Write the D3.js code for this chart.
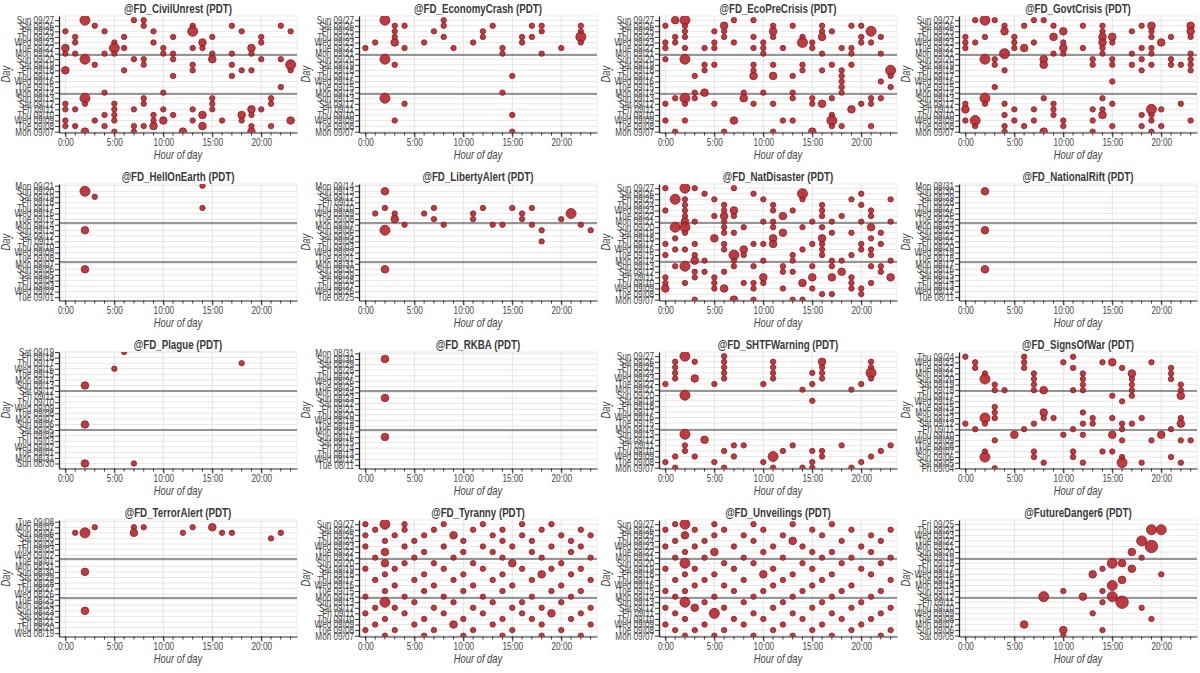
<!DOCTYPE html>
<html><head><meta charset="utf-8">
<script src="https://cdn.jsdelivr.net/npm/d3@7"></script>
<style>
body{margin:0;background:#fff}
svg{display:block}
text{font-family:"Liberation Sans",Arial,Helvetica,sans-serif}
</style>
</head><body>
<svg id="c" width="1200" height="673"></svg>
<script>
// ---------- data ----------
const accounts = ["@FD_CivilUnrest","@FD_EconomyCrash","@FD_EcoPreCrisis","@FD_GovtCrisis",
  "@FD_HellOnEarth","@FD_LibertyAlert","@FD_NatDisaster","@FD_NationalRift",
  "@FD_Plague","@FD_RKBA","@FD_SHTFWarning","@FD_SignsOfWar",
  "@FD_TerrorAlert","@FD_Tyranny","@FD_Unveilings","@FutureDanger6"];
const firstDay = ["2020-09-07","2020-09-07","2020-09-07","2020-09-07",
  "2020-09-01","2020-08-25","2020-09-07","2020-08-11",
  "2020-08-30","2020-08-11","2020-09-07","2020-09-04",
  "2020-08-19","2020-09-07","2020-09-07","2020-09-05"];
// time of last post, in days after firstDay
const lastPost = [20.75,20.75,20.75,20.75, 20.3,20.3,20.75,20.3, 20.0,20.25,20.75,20.85, 20.3,20.75,20.75,20.75];
const hourTicks = [0,5,10,15,20];
const hourTickLabels = ["0:00","5:00","10:00","15:00","20:00"];

// points: [hour, day index (0 = firstDay), size class]
const civilUnrest = [[2,20,3],[7,20,1],[8,20,1],
[3,19,1],[8,19,1],[13,19,1],[17,19,1],[22,19,1],
[0,18,1],[4,18,1],[9,18,1],[13,18,3],[18,18,1],[23,18,1],
[1,17,1],[6,17,1],[11,17,1],[15,17,1],[20,17,1],
[1,16,1],[5,16,1],[9,16,1],[14,16,2],[20,16,1],
[0,15,2],[5,15,3],[6,15,1],[10,15,1],[13,15,1],[14,15,1],[19,15,2],
[0,14,1],[1,14,1],[4,14,1],[5,14,1],[10,14,1],[11,14,1],[15,14,1],[17,14,1],[19,14,1],
[2,13,3],[7,13,1],[8,13,1],[11,13,1],[15,13,2],[20,13,1],[22,13,1],
[3,12,1],[8,12,1],[13,12,1],[17,12,1],[23,12,3],
[0,11,2],[6,11,1],[13,11,1],[18,11,1],[19,11,1],[23,11,1],
[11,10,1],[17,10,1],[22,8,1],[4,7,1],[10,7,1],
[2,6,3],[8,6,1],[15,6,1],[21,6,1],
[0,5,1],[2,5,1],[5,5,1],[8,5,1],[15,5,1],[21,5,1],
[0,4,1],[1,4,1],[5,4,1],[7,4,1],[10,4,1],[13,4,1],[15,4,1],[19,4,2],[20,4,1],
[4,3,1],[5,3,1],[9,3,1],[11,3,1],[14,3,2],[18,3,2],[19,3,1],
[0,2,1],[3,2,1],[5,2,1],[9,2,1],[10,2,2],[13,2,1],[16,2,1],[18,2,1],[23,2,2],
[0,1,1],[1,1,1],[4,1,1],[7,1,1],[8,1,1],[9,1,2],[14,1,2],[19,1,1],[21,1,1],
[2,0,2],[5,0,1],[7,0,1],[12,0,2],[19,0,2]];
const economyCrash = [[2,20,3],[8,20,1],
[3,19,1],[4,19,1],[8,19,1],[13,19,1],[17,19,1],[18,19,1],[22,19,1],
[3,18,1],[7,18,1],[12,18,1],[18,18,1],[22,18,1],
[3,17,1],[8,17,1],[12,17,1],[16,17,1],[17,17,1],[22,17,3],
[1,16,1],[3,16,2],[6,16,1],[11,16,1],[16,16,1],[22,16,1],
[0,15,1],[4,15,1],[9,15,1],[14,15,1],[20,15,1],
[14,14,1],[18,14,1],[2,13,3],[3,12,1],[15,10,1],[14,7,1],[2,6,3],[4,5,1],[15,3,1],[3,2,1],[15,0,1]];
const ecoPreCrisis = [[1,20,2],[2,20,3],[7,20,1],[9,20,1],
[0,19,1],[2,19,1],[6,19,2],[11,19,1],[13,19,1],[16,19,1],[19,19,1],[20,19,1],
[2,18,1],[5,18,1],[6,18,1],[11,18,2],[16,18,1],[17,18,1],[21,18,3],
[1,17,1],[2,17,1],[6,17,1],[9,17,1],[11,17,1],[14,17,1],[16,17,2],[20,17,1],[22,17,1],
[0,16,1],[1,16,1],[5,16,1],[7,16,1],[10,16,1],[14,16,3],[15,16,1],[20,16,1],[21,16,1],
[0,15,1],[2,15,1],[4,15,1],[5,15,1],[9,15,1],[10,15,1],[12,15,1],[15,15,1],[18,15,1],[19,15,1],
[10,14,1],[16,14,1],[19,14,1],[22,14,1],
[0,13,1],[2,13,3],
[4,12,1],[5,12,1],[9,12,1],[11,12,1],[14,12,1],[17,12,1],[19,12,1],
[4,11,1],[9,11,1],[14,11,1],[16,11,1],[18,11,1],[23,11,3],
[3,10,1],[9,10,2],[11,10,2],[13,10,1],[18,10,1],[23,10,1],
[18,9,1],[22,9,1],[18,8,1],[23,8,1],
[3,7,1],[4,7,2],[8,7,1],[10,7,1],[13,7,1],[18,7,1],
[1,6,1],[2,6,3],[3,6,1],[8,6,2],[13,6,1],[15,6,1],[17,6,1],[21,6,1],[22,6,1],
[0,5,1],[2,5,1],[5,5,1],[9,5,1],[11,5,1],[15,5,1],[16,5,2],[20,5,1],[21,5,1],
[19,4,2],[17,3,1],
[0,2,1],[2,2,1],[7,2,2],[12,2,1],[13,2,1],[17,2,3],
[17,1,1],[18,1,1],[21,1,1],
[1,0,1],[6,0,1],[11,0,1],[15,0,2]];
const govtCrisis = [[1,20,1],[2,20,3],[3,20,1],[7,20,1],[8,20,1],
[4,19,1],[6,19,1],[9,19,1],[12,19,1],[14,19,1],[18,19,1],[19,19,2],[23,19,2],
[4,18,2],[10,18,2],[14,18,1],[17,18,1],[19,18,1],[23,18,2],
[0,17,1],[2,17,1],[5,17,1],[9,17,2],[14,17,2],[15,17,2],[19,17,1],[21,17,1],[23,17,1],
[0,16,1],[1,16,1],[5,16,1],[7,16,1],[10,16,1],[14,16,2],[15,16,1],[20,16,2],
[0,15,1],[5,15,1],[6,15,2],[10,15,2],[12,15,1],[14,15,1],[18,15,1],[19,15,1],
[4,14,3],[9,14,1],[10,14,1],[14,14,1],[17,14,1],[19,14,1],[23,14,1],
[2,13,3],[3,13,1],[8,13,2],[13,13,1],[15,13,1],[18,13,1],[21,13,1],[23,13,1],
[3,12,1],[8,12,2],[13,12,1],[15,12,1],[17,12,1],[19,12,1],[21,12,1],[22,12,1],[23,12,1],
[4,11,1],[18,11,1],[23,11,1],[15,9,1],[3,8,1],
[2,6,3],[8,6,1],[14,6,1],
[0,5,1],[2,5,1],[4,5,1],[9,5,1],[15,5,1],[22,5,1],
[0,4,2],[5,4,1],[7,4,1],[9,4,1],[13,4,1],[14,4,1],[19,4,3],[20,4,1],
[4,3,1],[9,3,1],[14,3,2],[18,3,1],[19,3,1],
[0,2,1],[1,2,3],[5,2,1],[7,2,1],[10,2,1],[13,2,1],[19,2,1],[23,2,1],
[1,1,1],[4,1,1],[6,1,1],[10,1,1],[15,1,1],[18,1,1],[20,1,1],
[4,0,1],[8,0,2],[13,0,1],[19,0,1]];
const hellOnEarth = [[14,20,1],[2,19,3],[3,18,1],[14,16,1],[2,12,2],[2,5,2]];
const libertyAlert = [[2,19,2],
[2,16,1],[7,16,1],[12,16,1],[15,16,1],[17,16,1],
[1,15,1],[3,15,1],[6,15,1],[11,15,1],[16,15,1],[21,15,3],
[3,14,2],[7,14,1],[11,14,1],[16,14,1],[20,14,1],
[4,13,1],[8,13,1],[13,13,1],[14,13,1],[17,13,1],[22,13,1],
[2,12,3],[18,12,1],[23,12,1],[18,10,1],[2,5,2]];
const natDisaster = [[0,20,1],[2,20,3],[3,20,1],[7,20,1],
[4,19,1],[9,19,1],[14,19,3],[20,19,1],
[1,18,3],[2,18,1],[5,18,1],[10,18,1],[14,18,1],[19,18,1],[23,18,1],
[2,17,1],[6,17,1],[11,17,1],[16,17,1],[20,17,1],
[0,16,1],[2,16,1],[6,16,1],[7,16,2],[11,16,1],[13,16,1],[16,16,1],[21,16,1],
[2,15,1],[5,15,1],[6,15,2],[7,15,1],[12,15,2],[16,15,1],[18,15,1],[21,15,1],
[2,14,2],[3,14,1],[6,14,1],[10,14,1],[11,14,1],[15,14,1],[17,14,1],[20,14,1],[23,14,1],
[1,13,3],[2,13,3],[6,13,1],[8,13,1],[11,13,1],[14,13,1],[16,13,1],[21,13,2],
[2,12,1],[6,12,1],[7,12,1],[12,12,2],[17,12,1],[19,12,1],[22,12,1],
[1,11,1],[5,11,2],[11,11,2],[16,11,2],[21,11,1],
[0,10,1],[3,10,1],[6,10,1],[9,10,1],[10,10,1],[11,10,2],[15,10,1],[16,10,1],[20,10,1],[22,10,1],
[1,9,1],[2,9,1],[6,9,1],[8,9,2],[14,9,1],[16,9,1],[20,9,1],[21,9,1],
[0,8,1],[3,8,1],[7,8,3],[8,8,1],[13,8,1],[16,8,1],[19,8,1],[21,8,1],
[3,7,2],[4,7,1],[7,7,1],[10,7,1],[13,7,1],[17,7,1],[18,7,1],[23,7,1],
[1,6,1],[2,6,3],[7,6,1],[9,6,1],[12,6,1],[15,6,1],[17,6,1],[21,6,1],[22,6,1],
[3,5,1],[4,5,1],[6,5,1],[12,5,1],[13,5,1],[18,5,2],[22,5,1],
[0,4,1],[3,4,1],[5,4,1],[10,4,2],[15,4,2],[17,4,2],[19,4,1],[23,4,2],
[0,3,1],[2,3,1],[5,3,1],[8,3,1],[9,3,1],[10,3,1],[14,3,2],[19,3,1],[21,3,1],
[0,2,2],[5,2,1],[6,2,2],[9,2,1],[12,2,1],[15,2,1],[19,2,1],[20,2,1],
[16,1,1],[17,1,1],[20,1,1],
[3,0,1],[7,0,2],[9,0,1],[13,0,1],[14,0,1]];
const nationalRift = [[2,19,2],[2,12,2],[2,5,2]];
const plague = [[6,20,1],[18,18,1],[5,17,1],[2,14,2],[2,7,2],[2,0,2],[7,0,1]];
const rkba = [[2,19,2],[2,12,2],[2,5,2]];
const shtfWarning = [[2,20,3],[6,20,1],
[1,19,1],[3,19,1],[6,19,1],[11,19,1],[16,19,2],[21,19,1],
[1,18,1],[6,18,1],[11,18,1],[16,18,1],[21,18,1],
[1,17,1],[6,17,1],[11,17,1],[15,17,1],[16,17,1],[21,17,3],
[1,16,1],[3,16,2],[6,16,1],[11,16,1],[16,16,1],[21,16,1],
[0,15,1],[5,15,1],[10,15,1],[15,15,1],[20,15,1],
[14,14,1],[19,14,1],[2,13,3],[15,12,1],[2,6,3],[4,5,2],
[2,4,1],[7,4,1],[8,4,1],[13,4,1],[18,4,1],[23,4,1],
[2,3,1],[6,3,1],[12,3,1],[15,3,1],[16,3,1],[22,3,1],
[1,2,1],[3,2,1],[7,2,1],[11,2,3],[16,2,1],[21,2,1],
[0,1,1],[5,1,1],[10,1,1],[15,1,1],[20,1,1],
[1,0,1],[6,0,1],[11,0,1],[14,0,1],[15,0,1],[19,0,1]];
const signsOfWar = [[0,20,1],[6,20,1],[11,20,1],
[1,19,1],[6,19,1],[10,19,1],[14,19,1],[15,19,2],[19,19,1],
[1,18,1],[6,18,1],[11,18,1],[16,18,1],[21,18,1],
[2,17,1],[7,17,1],[12,17,1],[17,17,2],[21,17,1],
[2,16,3],[7,16,1],[12,16,1],[17,16,1],[21,16,1],
[3,15,1],[7,15,1],[12,15,1],[17,15,1],[22,15,1],
[3,14,1],[4,14,1],[7,14,1],[8,14,2],[11,14,1],[12,14,1],[17,14,1],[22,14,1],
[15,13,1],[17,13,1],[22,13,2],[16,12,1],[3,11,1],
[3,10,1],[8,10,2],[12,10,1],
[2,9,3],[3,9,1],[8,9,1],[9,9,1],[13,9,1],[15,9,1],[18,9,1],[22,9,1],
[0,8,1],[2,8,1],[7,8,1],[12,8,1],[13,8,1],[16,8,1],[17,8,1],[22,8,2],
[1,7,1],[6,7,1],[11,7,1],[16,7,1],[21,7,1],
[5,6,2],[10,6,1],[12,6,1],[15,6,2],[20,6,2],
[3,5,1],[16,5,1],[19,5,1],[22,5,1],[23,5,1],
[2,3,1],[7,3,1],[11,3,1],[14,3,1],[15,3,1],
[2,2,3],[7,2,1],[11,2,1],[16,2,1],[21,2,1],
[8,1,1],[12,1,1],[16,1,3],[18,1,1],[22,1,1],[3,0,1]];
const terrorAlert = [[1,18,1],[2,18,3],[3,19,1],[7,19,1],[7,18,2],[8,19,1],[12,18,1],[13,19,1],
[15,19,2],[16,18,1],[17,18,1],[21,17,1],[22,18,1],[2,11,2],[2,4,2]];
const tyranny = [[0,20,1],[2,20,3],[4,20,1],[8,20,1],[12,20,1],[16,20,1],[19,20,1],
[1,19,1],[4,19,1],[7,19,1],[11,19,1],[14,19,1],[18,19,1],[22,19,1],
[0,18,1],[3,18,1],[6,18,1],[9,18,2],[13,18,1],[16,18,1],[20,18,1],[23,18,1],
[2,17,1],[5,17,1],[10,17,1],[14,17,1],[17,17,1],[21,17,1],
[0,16,1],[4,16,1],[8,16,1],[12,16,1],[15,16,1],[19,16,1],[22,16,1],
[2,15,2],[6,15,1],[10,15,1],[13,15,1],[17,15,1],[21,15,1],
[1,14,1],[5,14,1],[9,14,1],[14,14,1],[18,14,1],[23,14,1],
[2,13,2],[4,13,1],[7,13,1],[11,13,1],[15,13,2],[20,13,1],
[0,12,1],[3,12,1],[8,12,1],[12,12,1],[16,12,1],[19,12,1],[22,12,1],
[2,11,1],[6,11,1],[10,11,1],[14,11,1],[18,11,2],[21,11,1],
[1,10,1],[5,10,1],[9,10,1],[13,10,1],[17,10,1],[23,10,1],
[3,9,1],[7,9,1],[11,9,1],[15,9,1],[20,9,1],
[2,8,1],[6,8,1],[10,8,1],[14,8,1],[19,8,1],[22,8,1],
[0,7,1],[4,7,1],[8,7,1],[12,7,1],[17,7,1],[21,7,1],
[2,6,3],[5,6,1],[9,6,1],[13,6,1],[16,6,1],[20,6,1],
[1,5,1],[3,5,1],[7,5,1],[11,5,1],[15,5,1],[18,5,1],[23,5,1],
[0,4,1],[4,4,1],[8,4,1],[12,4,1],[16,4,1],[19,4,2],[22,4,1],
[2,3,1],[6,3,1],[10,3,1],[14,3,1],[17,3,1],[21,3,1],
[1,2,1],[5,2,1],[9,2,2],[13,2,1],[18,2,1],[23,2,1],
[0,1,1],[3,1,1],[7,1,1],[11,1,1],[15,1,1],[20,1,1],
[2,0,1],[6,0,1],[10,0,1],[14,0,1],[18,0,1],[22,0,1]];
const unveilings = [[1,20,1],[2,20,3],[5,20,1],[9,20,1],[13,20,1],[17,20,1],
[0,19,1],[3,19,1],[6,19,1],[10,19,1],[15,19,1],[19,19,1],[23,19,1],
[2,18,2],[5,18,1],[8,18,1],[12,18,1],[16,18,1],[21,18,1],
[1,17,1],[4,17,1],[9,17,1],[13,17,2],[18,17,1],[22,17,1],
[0,16,1],[3,16,1],[7,16,1],[11,16,1],[14,16,1],[20,16,1],
[2,15,1],[5,15,2],[10,15,1],[15,15,1],[17,15,1],[21,15,1],
[1,14,1],[4,14,1],[8,14,1],[12,14,1],[16,14,1],[19,14,1],[23,14,1],
[2,13,3],[6,13,1],[9,13,1],[14,13,1],[18,13,1],[22,13,1],
[0,12,1],[3,12,1],[7,12,1],[11,12,1],[15,12,1],[20,12,1],
[2,11,1],[5,11,1],[10,11,2],[13,11,1],[17,11,1],[21,11,1],
[1,10,1],[4,10,1],[8,10,1],[12,10,1],[16,10,1],[23,10,1],
[3,9,1],[6,9,1],[11,9,1],[15,9,1],[19,9,1],
[0,8,1],[2,8,1],[7,8,1],[10,8,1],[14,8,1],[18,8,1],[22,8,1],
[1,7,1],[5,7,1],[9,7,1],[13,7,1],[17,7,1],[21,7,1],
[2,6,3],[4,6,1],[8,6,1],[12,6,1],[16,6,1],[20,6,1],
[0,5,1],[3,5,2],[6,5,1],[11,5,1],[15,5,1],[19,5,1],[23,5,1],
[1,4,1],[5,4,3],[9,4,1],[13,4,1],[17,4,1],[22,4,1],
[2,3,1],[7,3,1],[10,3,1],[14,3,1],[18,3,1],[21,3,1],
[0,2,1],[4,2,1],[8,2,1],[12,2,1],[16,2,1],[20,2,1],
[1,1,1],[3,1,1],[6,1,1],[11,1,1],[15,1,1],[19,1,1],[23,1,1],
[2,0,1],[5,0,1],[9,0,1],[13,0,1],[17,0,1],[22,0,1]];
const futureDanger6 = [[19,19,3],[20,19,3],[18,17,3],[19,16,4],[17,15,2],[18,14,1],
[16,13,2],[15,13,3],[14,12,1],[17,12,2],[13,11,2],[20,11,1],[16,10,2],[15,9,3],
[14,8,1],[10,8,1],[12,7,2],[8,7,3],[15,7,3],[16,6,4],[14,6,1],[18,5,1],[13,4,1],
[19,3,1],[6,2,2],[10,1,2],[10,0,1],[14,1,1]];

const series = [civilUnrest, economyCrash, ecoPreCrisis, govtCrisis,
  hellOnEarth, libertyAlert, natDisaster, nationalRift,
  plague, rkba, shtfWarning, signsOfWar,
  terrorAlert, tyranny, unveilings, futureDanger6];
const radius = {1:2.7, 2:3.8, 3:5.0, 4:6.2};

// ---------- drawing ----------
const SX = 0.78;          // narrow text
const PW = 300, PH = 168;
const L = 59, R = 297, T = 16, B = 132.5;
const svg = d3.select("#c");
const parse = d3.timeParse("%Y-%m-%d");
const fmt = d3.timeFormat("%a %m/%d");

accounts.forEach((name, i) => {
  const col = i % 4, row = Math.floor(i / 4);
  const g = svg.append("g").attr("transform", `translate(${col*PW},${row*PH})`);
  const hi = lastPost[i];
  const x = d3.scaleLinear().domain([-0.65, 23.65]).range([L, R]);
  const y = d3.scaleLinear().domain([hi - 20.9, hi]).range([B, T]);
  const start = parse(firstDay[i]);
  const days = d3.range(0, 21);

  g.append("rect").attr("x", L).attr("y", T).attr("width", R - L).attr("height", B - T)
    .attr("fill", "#fff").attr("stroke", "#ececec");
  g.append("g").selectAll("line").data(days).join("line")
    .attr("x1", L).attr("x2", R).attr("y1", d => y(d)).attr("y2", d => y(d))
    .attr("stroke", "#e8e8e8").attr("stroke-width", 1);
  g.append("g").selectAll("line").data(hourTicks).join("line")
    .attr("x1", d => x(d)).attr("x2", d => x(d)).attr("y1", T).attr("y2", B)
    .attr("stroke", "#e3e3e3").attr("stroke-width", 1);
  g.append("g").selectAll("line").data([hi - 7, hi - 14]).join("line")
    .attr("x1", L).attr("x2", R).attr("y1", d => y(d)).attr("y2", d => y(d))
    .attr("stroke", "#737373").attr("stroke-width", 1.4);

  const clipId = "clip" + i;
  g.append("clipPath").attr("id", clipId).append("rect")
    .attr("x", L).attr("y", T).attr("width", R - L).attr("height", B - T);
  g.append("g").attr("clip-path", `url(#${clipId})`)
    .selectAll("circle").data(series[i]).join("circle")
    .attr("cx", d => x(d[0])).attr("cy", d => y(d[1])).attr("r", d => radius[d[2]])
    .attr("fill", "#b5272d").attr("fill-opacity", 0.9)
    .attr("stroke", "#8c1d22").attr("stroke-width", 0.8);

  const xa = g.append("g").attr("transform", `translate(0,${B})`)
    .call(d3.axisBottom(x).tickValues(hourTicks).tickSize(5).tickSizeOuter(0)
      .tickFormat((d, k) => hourTickLabels[k]));
  xa.select(".domain").attr("stroke", "#333");
  xa.selectAll(".tick line").attr("stroke", "#333");
  xa.selectAll(".tick text").attr("y", 6).attr("dy", "0.71em")
    .attr("transform", `scale(${SX},1)`).attr("fill", "#444")
    .style("font-size", "10.5px");
  xa.append("g").selectAll("line").data(d3.range(0, 24)).join("line")
    .attr("x1", d => x(d)).attr("x2", d => x(d)).attr("y1", 0).attr("y2", 3)
    .attr("stroke", "#333");

  const ya = g.append("g").attr("transform", `translate(${L},0)`)
    .call(d3.axisLeft(y).tickValues(days).tickSize(4).tickSizeOuter(0)
      .tickFormat(d => fmt(d3.timeDay.offset(start, d))));
  ya.select(".domain").attr("stroke", "#222").attr("stroke-width", 1.3);
  ya.selectAll(".tick line").attr("stroke", "#333");
  ya.selectAll(".tick text").attr("x", -5 / SX)
    .attr("transform", `scale(${SX},1)`).attr("fill", "#444")
    .style("font-size", "10.5px");

  g.append("text").attr("transform", `translate(${(L + R) / 2},12.5) scale(${SX},1)`)
    .attr("text-anchor", "middle").style("font-size", "12.5px").style("font-weight", "bold")
    .attr("fill", "#3a3a3a").text(name + " (PDT)");
  g.append("text").attr("transform", `translate(${(L + R) / 2},159) scale(${SX},1)`)
    .attr("text-anchor", "middle").style("font-size", "12px").style("font-style", "italic")
    .attr("fill", "#444").text("Hour of day");
  g.append("text").attr("transform", `translate(10,${(T + B) / 2}) rotate(-90) scale(${SX},1)`)
    .attr("text-anchor", "middle").style("font-size", "12px").style("font-style", "italic")
    .attr("fill", "#444").text("Day");
});
</script>
</body></html>
